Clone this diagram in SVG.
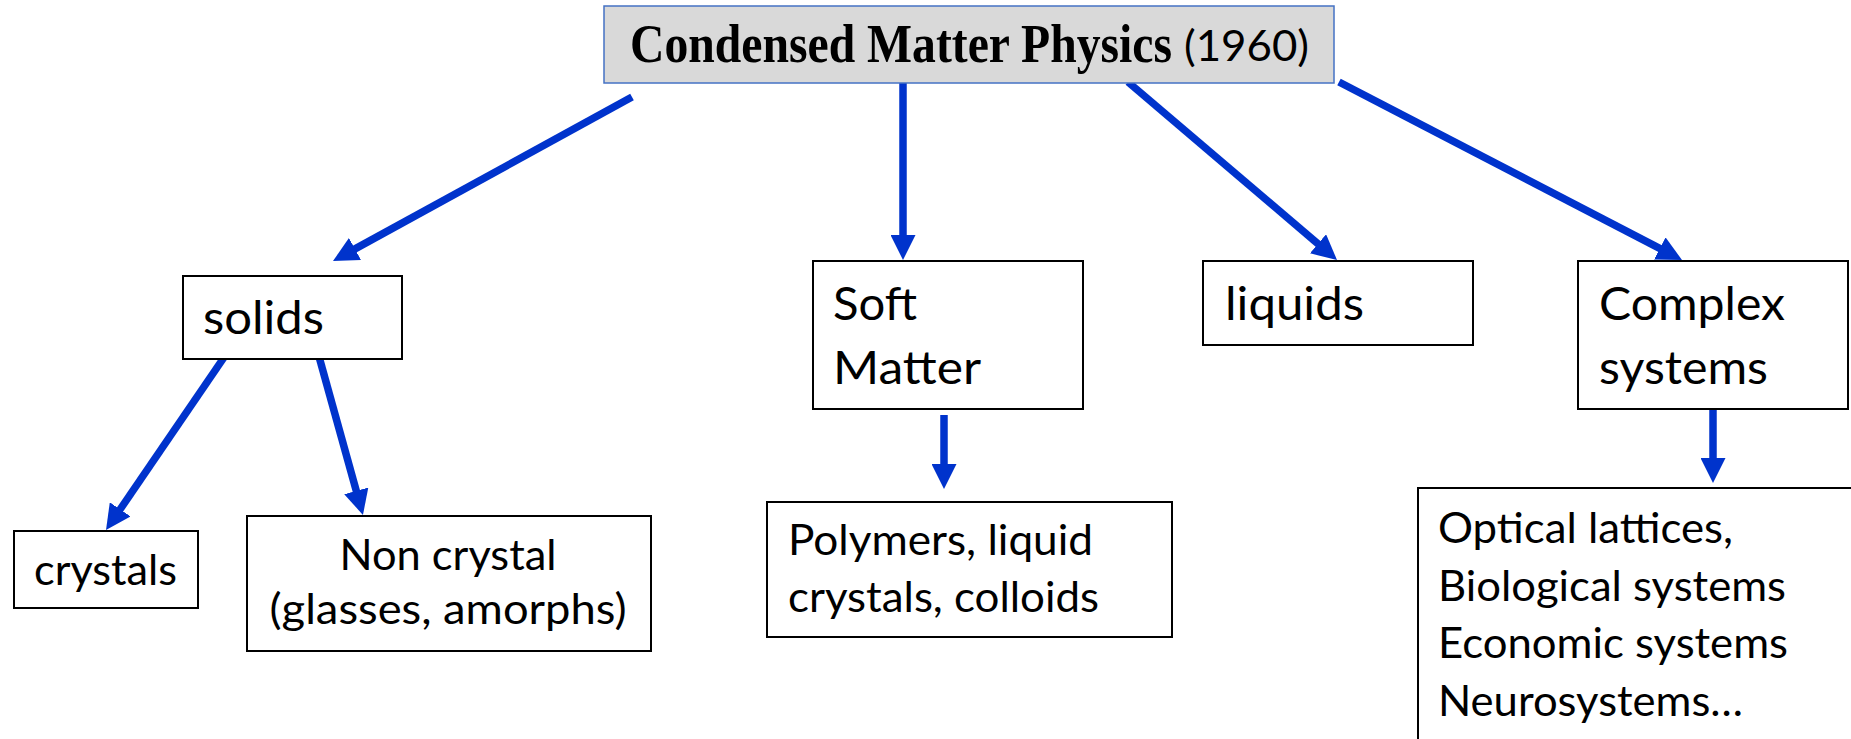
<svg xmlns="http://www.w3.org/2000/svg" width="1851" height="739" viewBox="0 0 1851 739">
<defs>
<style>
.box{fill:#ffffff;stroke:#000000;stroke-width:2}
.title{fill:#d9d9d9;stroke:#4472c4;stroke-width:1.5}
.t{font-family:Lato,"Open Sans","Liberation Sans",sans-serif;fill:#000000}
.l2{font-size:46px}
.l3{font-size:42px}
.serif{font-family:"Liberation Serif","Times New Roman",serif;font-weight:bold;font-size:54px;fill:#000000}
.arr{stroke:#0033cc;stroke-width:7.5;fill:none;marker-end:url(#ah)}
</style>
<marker id="ah" viewBox="0 -12.5 25 25" refX="2" refY="0" markerWidth="25" markerHeight="25" markerUnits="userSpaceOnUse" orient="auto">
<path d="M0,-12.5 L25,0 L0,12.5 z" fill="#0033cc"/>
</marker>
</defs>
<rect width="1851" height="739" fill="#ffffff"/>

<g id="connectors">
<line class="arr" x1="632" y1="97" x2="353.2" y2="249.9"/>
<line class="arr" x1="903" y1="81" x2="903" y2="237"/>
<line class="arr" x1="1128" y1="82" x2="1319.5" y2="245.1"/>
<line class="arr" x1="1339" y1="82" x2="1661.6" y2="249.4"/>
<line class="arr" x1="227" y1="353" x2="119" y2="511"/>
<line class="arr" x1="318" y1="353" x2="356.8" y2="492.8"/>
<line class="arr" x1="944" y1="415" x2="944" y2="466"/>
<line class="arr" x1="1713" y1="409" x2="1713" y2="460"/>
</g>

<g id="node-title">
<rect class="title" x="604" y="6" width="730" height="77"/>
<text class="serif" x="630" y="62" textLength="542" lengthAdjust="spacingAndGlyphs">Condensed Matter Physics</text>
<text class="t" x="1184" y="61" font-size="42" textLength="125" lengthAdjust="spacingAndGlyphs">(1960)</text>
</g>

<g id="node-solids">
<rect class="box" x="183" y="276" width="219" height="83"/>
<text class="t l2" x="203" y="334" textLength="121" lengthAdjust="spacingAndGlyphs">solids</text>
</g>

<g id="node-soft-matter">
<rect class="box" x="813" y="261" width="270" height="148"/>
<text class="t l2" x="833" y="320" textLength="84" lengthAdjust="spacingAndGlyphs">Soft</text>
<text class="t l2" x="833" y="384" textLength="148" lengthAdjust="spacingAndGlyphs">Matter</text>
</g>

<g id="node-liquids">
<rect class="box" x="1203" y="261" width="270" height="84"/>
<text class="t l2" x="1225" y="320" textLength="139" lengthAdjust="spacingAndGlyphs">liquids</text>
</g>

<g id="node-complex">
<rect class="box" x="1578" y="261" width="270" height="148"/>
<text class="t l2" x="1599" y="320" textLength="186" lengthAdjust="spacingAndGlyphs">Complex</text>
<text class="t l2" x="1599" y="384" textLength="169" lengthAdjust="spacingAndGlyphs">systems</text>
</g>

<g id="node-crystals">
<rect class="box" x="14" y="531" width="184" height="77"/>
<text class="t l3" x="34" y="585" textLength="143" lengthAdjust="spacingAndGlyphs">crystals</text>
</g>

<g id="node-non-crystal">
<rect class="box" x="247" y="516" width="404" height="135"/>
<text class="t l3" x="448" y="570" text-anchor="middle" textLength="217" lengthAdjust="spacingAndGlyphs">Non crystal</text>
<text class="t l3" x="448" y="624" text-anchor="middle" textLength="357" lengthAdjust="spacingAndGlyphs">(glasses, amorphs)</text>
</g>

<g id="node-polymers">
<rect class="box" x="767" y="502" width="405" height="135"/>
<text class="t l3" x="788" y="555" textLength="305" lengthAdjust="spacingAndGlyphs">Polymers, liquid</text>
<text class="t l3" x="788" y="612" textLength="311" lengthAdjust="spacingAndGlyphs">crystals, colloids</text>
</g>

<g id="node-complex-examples">
<rect class="box" x="1418" y="488" width="500" height="300"/>
<text class="t l3" x="1438" y="543" textLength="295" lengthAdjust="spacingAndGlyphs">Optical lattices,</text>
<text class="t l3" x="1438" y="601" textLength="348" lengthAdjust="spacingAndGlyphs">Biological systems</text>
<text class="t l3" x="1438" y="658" textLength="350" lengthAdjust="spacingAndGlyphs">Economic systems</text>
<text class="t l3" x="1438" y="716" textLength="305" lengthAdjust="spacingAndGlyphs">Neurosystems…</text>
</g>
</svg>
